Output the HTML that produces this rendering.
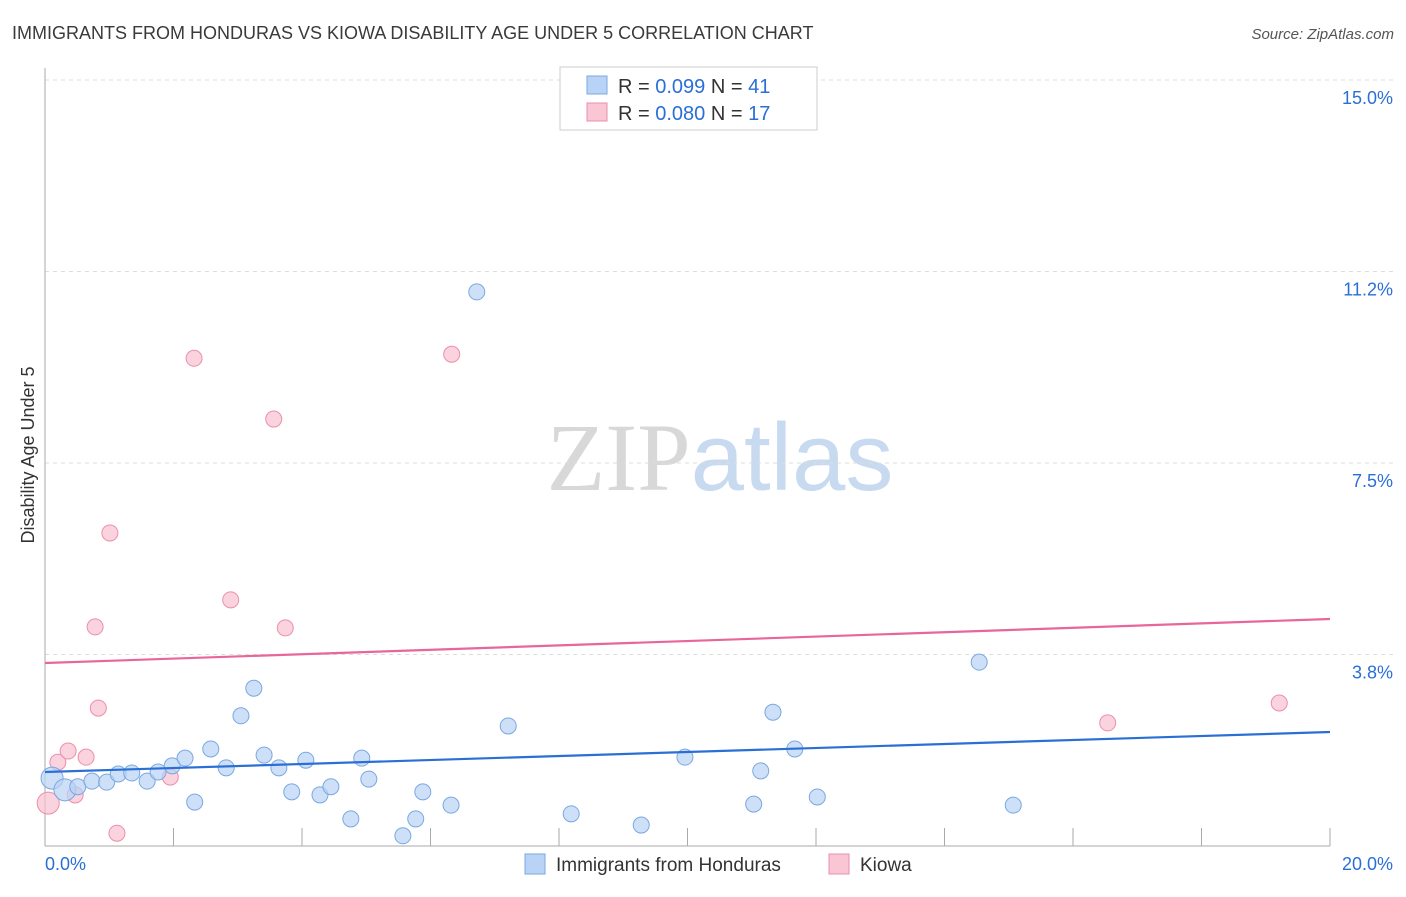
<!DOCTYPE html>
<html><head><meta charset="utf-8"><style>
body{margin:0;background:#fff;font-family:"Liberation Sans",sans-serif}
svg text{font-family:"Liberation Sans",sans-serif}
</style></head><body>
<svg id="chart" width="1406" height="892" xmlns="http://www.w3.org/2000/svg">
<text x="12" y="39" font-size="18" fill="#3a3a3a">IMMIGRANTS FROM HONDURAS VS KIOWA DISABILITY AGE UNDER 5 CORRELATION CHART</text>
<text x="1394" y="39" font-size="15" fill="#555" text-anchor="end" font-style="italic">Source: ZipAtlas.com</text>
<text x="720" y="490" font-size="96" text-anchor="middle"><tspan fill="#d8d8d8" font-family="Liberation Serif">ZIP</tspan><tspan fill="#c8daf0">atlas</tspan></text>
<text transform="translate(34,455) rotate(-90)" font-size="18" fill="#333" text-anchor="middle">Disability Age Under 5</text>
<g id="grid"></g><g id="axes"></g><g id="marks"></g>
<g>
<rect x="560" y="67" width="257" height="63" fill="#fff" stroke="#ccc"/>
<rect x="587" y="76" width="20" height="18" fill="#b8d3f5" stroke="#7aa8e0"/>
<rect x="587" y="103" width="20" height="18" fill="#f8c6d5" stroke="#eb8fac"/>
<text x="618" y="93" font-size="20" fill="#333">R = <tspan fill="#2a6fd6">0.099</tspan>   N = <tspan fill="#2a6fd6">41</tspan></text>
<text x="618" y="120" font-size="20" fill="#333">R = <tspan fill="#2a6fd6">0.080</tspan>   N = <tspan fill="#2a6fd6">17</tspan></text>
</g>
<g>
<rect x="525" y="854" width="20" height="20" fill="#b8d3f5" stroke="#7aa8e0"/>
<text x="556" y="871" font-size="19" fill="#333">Immigrants from Honduras</text>
<rect x="829" y="854" width="20" height="20" fill="#f8c6d5" stroke="#eb8fac"/>
<text x="860" y="871" font-size="19" fill="#333">Kiowa</text>
</g>
</svg>
<script>
const yTicks=[3.75,7.5,11.25,15];
const yTickLabels=["3.8%","7.5%","11.2%","15.0%"];
const xTickLabels=["0.0%","20.0%"];
const hondurasX=[0.11,0.31,0.51,0.73,0.96,1.14,1.35,1.59,1.76,1.98,2.18,2.33,2.58,2.82,3.05,3.25,3.41,3.64,3.84,4.06,4.28,4.45,4.76,4.93,5.04,5.57,5.77,5.88,6.32,6.72,7.21,8.19,9.28,9.96,11.03,11.14,11.33,11.67,12.02,14.54,15.07];
const hondurasY=[1.33,1.10,1.16,1.27,1.25,1.41,1.43,1.27,1.45,1.57,1.72,0.86,1.90,1.53,2.55,3.09,1.78,1.53,1.06,1.68,1.00,1.16,0.53,1.72,1.31,0.20,0.53,1.06,0.80,10.85,2.35,0.63,0.41,1.74,0.82,1.47,2.62,1.90,0.96,3.60,0.80];
const kiowaX=[0.05,0.20,0.36,0.47,0.64,0.78,0.83,1.01,1.12,1.95,2.32,2.89,3.56,3.74,6.33,16.54,19.21];
const kiowaY=[0.84,1.64,1.86,1.00,1.74,4.29,2.70,6.13,0.25,1.35,9.55,4.82,8.36,4.27,9.63,2.41,2.80];
const hondurasTrend=[1.449,2.232];
const kiowaTrend=[3.583,4.445];
const NS="http://www.w3.org/2000/svg";
const X=v=>45+v/20*1285, Y=v=>846-v*51.07;
function mk(t,a,p){const e=document.createElementNS(NS,t);for(const k in a)e.setAttribute(k,a[k]);document.getElementById(p).appendChild(e);return e;}
yTicks.forEach((t,i)=>{
 const l=mk('line',{x1:45,x2:1395,y1:Y(t),y2:Y(t),stroke:'#ddd','stroke-dasharray':'4,4'},'grid');
 
 
 const tx=mk('text',{x:1393,y:Y(t)+24,'font-size':18,fill:'#2a6fd6','text-anchor':'end'},'grid');tx.textContent=yTickLabels[i];
 
 
});
let a=mk('line',{x1:45,x2:45,y1:68,y2:846,stroke:'#aaa'},'axes');


a=mk('line',{x1:45,x2:1330,y1:846,y2:846,stroke:'#aaa'},'axes');


for(let i=1;i<=10;i++){const t=mk('line',{x1:X(i*2),x2:X(i*2),y1:828,y2:846,stroke:'#aaa'},'axes');
 
 }
let tl=mk('text',{x:45,y:870,'font-size':18,fill:'#2a6fd6'},'axes');tl.textContent=xTickLabels[0];


tl=mk('text',{x:1393,y:870,'font-size':18,fill:'#2a6fd6','text-anchor':'end'},'axes');tl.textContent=xTickLabels[1];


function pts(xs,ys,fill,stroke,name){xs.forEach((x,i)=>{const big=x<0.4&&ys[i]<1.4;
 const c=mk('circle',{cx:X(x),cy:Y(ys[i]),r:big?11:8,fill:fill,'fill-opacity':0.7,stroke:stroke,'stroke-width':1},'marks');
 
 });}
pts(kiowaX,kiowaY,'#f8c0d0','#eb8fac','kiowa-point');
pts(hondurasX,hondurasY,'#b8d3f5','#7aa8e0','honduras-point');
let tr=mk('line',{x1:X(0),x2:X(20),y1:Y(hondurasTrend[0]),y2:Y(hondurasTrend[1]),stroke:'#2a6fd6','stroke-width':2.2},'marks');


tr=mk('line',{x1:X(0),x2:X(20),y1:Y(kiowaTrend[0]),y2:Y(kiowaTrend[1]),stroke:'#e8669a','stroke-width':2.2},'marks');


</script>
</body></html>
